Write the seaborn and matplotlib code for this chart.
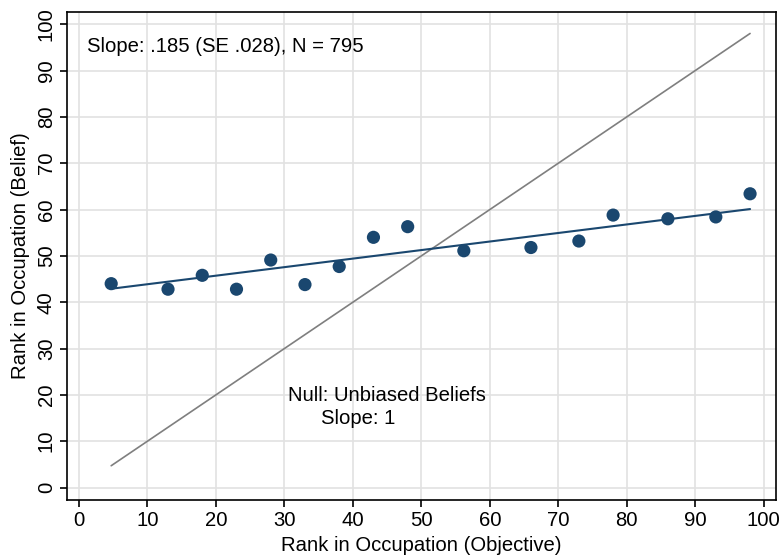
import seaborn as sns
import matplotlib.pyplot as plt
import pandas as pd

# binned means
obj_rank = [4.7, 13, 18, 23, 28, 33, 38, 43, 48, 56.2, 66, 73, 78, 86, 93, 98]
belief_rank = [44.0, 42.8, 45.8, 42.8, 49.1, 43.8, 47.7, 54.0, 56.3, 51.1, 51.8, 53.2, 58.8, 58.0, 58.4, 63.4]

# fitted line and 45 degree reference line (endpoints)
fit_x = [4.7, 98]
fit_y = [42.9, 60.1]
null_x = [4.7, 98]
null_y = [4.7, 98]

ticks = list(range(0, 101, 10))

df = pd.DataFrame({'Objective': obj_rank, 'Belief': belief_rank})

sns.set_style('white')
plt.rcParams['font.family'] = ['Liberation Sans', 'DejaVu Sans']
plt.rcParams['text.color'] = 'black'
plt.rcParams['axes.labelcolor'] = 'black'
plt.rcParams['xtick.color'] = 'black'
plt.rcParams['ytick.color'] = 'black'

navy = '#1a476f'
fs = 14.6
fig, ax = plt.subplots(figsize=(7.82, 5.57), dpi=100)
fig.subplots_adjust(left=0.0857, right=0.992, bottom=0.1023, top=0.979)

ax.plot(null_x, null_y, color='#7f7f7f', lw=1.2, zorder=2)
ax.plot(fit_x, fit_y, color=navy, lw=1.5, zorder=3)
sns.scatterplot(data=df, x='Objective', y='Belief', color=navy, s=90,
                edgecolor='none', ax=ax, zorder=4)

ax.set_xlim(-1.75, 101.75)
ax.set_ylim(-2.7, 102.7)
ax.set_xticks(ticks)
ax.set_yticks(ticks)
ax.grid(True, color='#e2e2e2', lw=1.2)
ax.set_axisbelow(True)
for s in ax.spines.values():
    s.set_color('black')
    s.set_linewidth(1.2)
ax.tick_params(axis='both', direction='out', length=5, width=1.2, color='black',
               labelsize=fs, pad=3, bottom=True, left=True)
plt.setp(ax.get_yticklabels(), rotation=90, va='center')

ax.set_xlabel('Rank in Occupation (Objective)', fontsize=fs, labelpad=4)
ax.set_ylabel('Rank in Occupation (Belief)', fontsize=fs, labelpad=5)

ax.text(1.1, 95.1, 'Slope: .185 (SE .028), N = 795', fontsize=fs, va='center', ha='left')
ax.text(30.5, 19.9, 'Null: Unbiased Beliefs', fontsize=fs, va='center', ha='left')
ax.text(35.3, 15.0, 'Slope: 1', fontsize=fs, va='center', ha='left')

plt.savefig('out.png', dpi=100)
